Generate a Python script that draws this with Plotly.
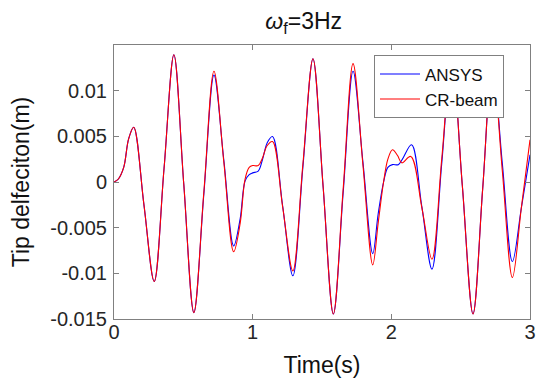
import plotly.graph_objects as go

# Tip deflection time history, forcing frequency 3 Hz
t_ansys = [0, 0.03, 0.07, 0.105, 0.142, 0.216, 0.29, 0.361, 0.432, 0.503, 0.576,
           0.648, 0.721, 0.792, 0.863, 0.91, 0.945, 0.975, 1.0, 1.04, 1.07, 1.105,
           1.143, 1.216, 1.29, 1.362, 1.435, 1.508, 1.582, 1.653, 1.724, 1.795,
           1.866, 1.905, 1.944, 1.975, 2.008, 2.05, 2.08, 2.146, 2.22, 2.293,
           2.364, 2.435, 2.512, 2.589, 2.659, 2.729, 2.80, 2.873, 2.937, 3.0]
u_ansys = [0, 0.0003, 0.0016, 0.0047, 0.0060, -0.0025, -0.0109, 0.0015, 0.01394,
           -0.0002, -0.0143, -0.0013, 0.0117, 0.0024, -0.0070, -0.0040, 0.0001,
           0.0008, 0.0010, 0.0012, 0.0024, 0.0043, 0.00498, -0.0026, -0.01027,
           0.0016, 0.0135, -0.0005, -0.01445, -0.0011, 0.01213, 0.0022, -0.00784,
           -0.0035, 0.0, 0.0016, 0.0019, 0.0019, 0.0025, 0.00407, -0.0027,
           -0.00954, 0.0021, 0.0136, -0.0004, -0.01445, -0.0007, 0.0130, 0.0021,
           -0.00871, -0.0029, 0.00298]

t_cr = [0, 0.03, 0.07, 0.105, 0.142, 0.216, 0.29, 0.361, 0.432, 0.503, 0.576,
        0.648, 0.721, 0.792, 0.863, 0.91, 0.945, 0.975, 1.0, 1.04, 1.07, 1.105,
        1.143, 1.216, 1.29, 1.362, 1.435, 1.508, 1.582, 1.653, 1.724, 1.795,
        1.866, 1.905, 1.944, 1.975, 2.008, 2.045, 2.075, 2.14, 2.22, 2.293,
        2.364, 2.435, 2.512, 2.589, 2.659, 2.729, 2.80, 2.873, 2.937, 3.0]
u_cr = [0, 0.0003, 0.0016, 0.0047, 0.0060, -0.0025, -0.0109, 0.0015, 0.01394,
        -0.0002, -0.0143, -0.0011, 0.01213, 0.0022, -0.00763, -0.0045, 0.0003,
        0.0016, 0.0018, 0.0018, 0.0026, 0.0040, 0.00443, -0.0027, -0.00973,
        0.0019, 0.0135, -0.0005, -0.01445, -0.0007, 0.01296, 0.0019, -0.00907,
        -0.0045, 0.0, 0.0025, 0.00353, 0.0029, 0.0021, 0.0028, -0.0028,
        -0.00845, 0.0026, 0.0136, -0.0004, -0.01445, -0.0007, 0.0131, 0.0013,
        -0.01046, -0.0029, 0.00462]

x_ticks = [0, 1, 2, 3]
y_ticks = [-0.015, -0.01, -0.005, 0, 0.005, 0.01]
y_labels = ["-0.015", "-0.01", "-0.005", "0", "0.005", "0.01"]

FONT = "Liberation Sans, Arial, sans-serif"
AXIS_GRAY = "#808080"

fig = go.Figure()
fig.add_trace(go.Scatter(x=t_ansys, y=u_ansys, name="ANSYS", mode="lines",
                         line=dict(color="#0000ff", width=1.1, shape="spline")))
fig.add_trace(go.Scatter(x=t_cr, y=u_cr, name="CR-beam", mode="lines",
                         line=dict(color="#ff0000", width=1.1, shape="spline")))

fig.update_layout(
    width=543, height=380,
    margin=dict(l=114, r=7, t=45, b=61),
    paper_bgcolor="white", plot_bgcolor="white",
    font=dict(family=FONT, size=20, color="#262626"),
    title=dict(text="<i>ω</i><sub>f</sub>=3Hz", x=0.456, xref="paper",
               xanchor="center", y=1 - 21 / 380, yref="container",
               yanchor="middle", font=dict(family=FONT, size=23, color="#111111")),
    legend=dict(x=0.625, y=0.962, xanchor="left", yanchor="top",
                bgcolor="white", bordercolor=AXIS_GRAY, borderwidth=1,
                font=dict(family=FONT, size=17, color="#111111"),
                tracegroupgap=0, itemwidth=40),
    showlegend=True,
)

fig.update_xaxes(range=[0, 3], tickvals=x_ticks, ticktext=[str(v) for v in x_ticks],
                 ticks="inside", ticklen=5, tickcolor=AXIS_GRAY, ticklabelstandoff=-5,
                 showline=True, linecolor=AXIS_GRAY, linewidth=1, mirror="allticks",
                 showgrid=False, zeroline=False,
                 title=dict(text="Time(s)", font=dict(size=23, color="#111111"),
                            standoff=14))
fig.update_yaxes(range=[-0.015, 0.015], tickvals=y_ticks, ticktext=y_labels,
                 ticks="inside", ticklen=5, tickcolor=AXIS_GRAY, ticklabelstandoff=2,
                 showline=True, linecolor=AXIS_GRAY, linewidth=1, mirror="allticks",
                 showgrid=False, zeroline=False,
                 title=dict(text="Tip delfeciton(m)", font=dict(size=23, color="#111111"),
                            standoff=14))

fig.write_html("out.html")
